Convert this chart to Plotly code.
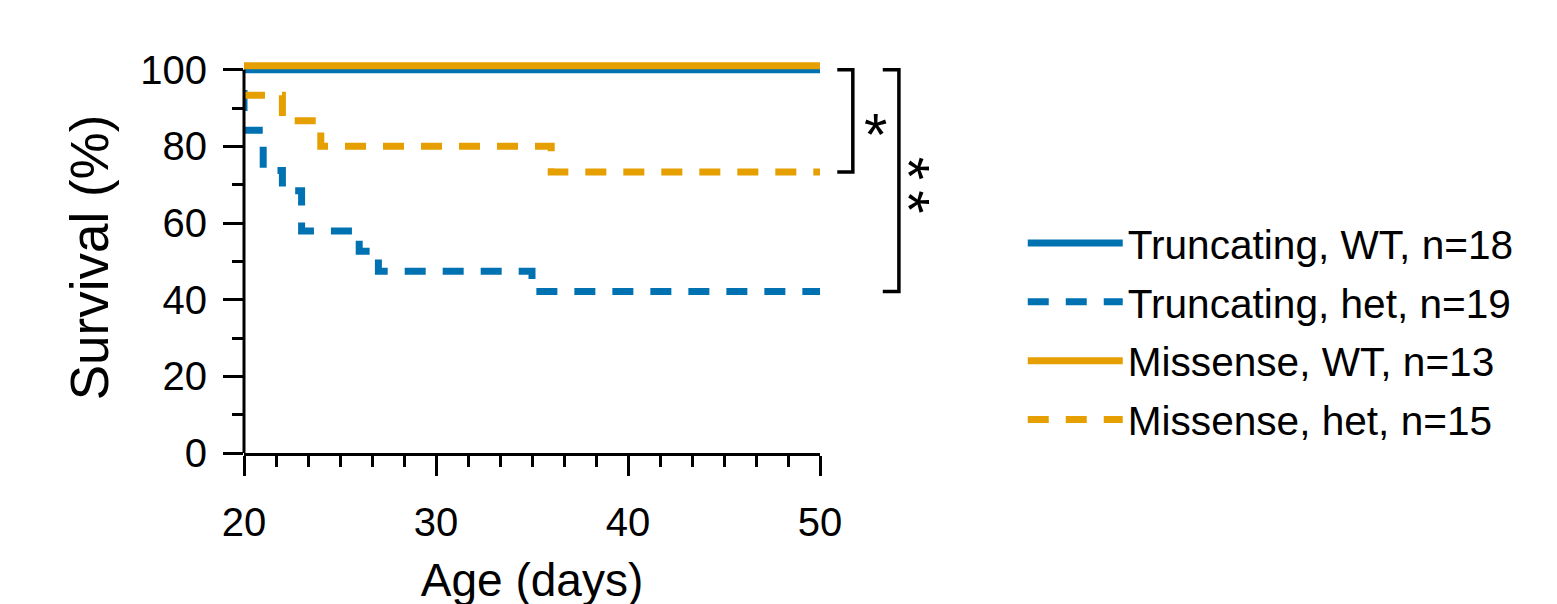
import plotly.graph_objects as go

# ---- data ----
trunc_wt_days = [20, 50]
trunc_wt_surv = [100, 100]

trunc_het_days = [20, 20, 21, 22, 23, 26, 27, 35, 50]
trunc_het_surv = [94.7, 84.2, 73.7, 68.4, 57.9, 52.6, 47.4, 42.1, 42.1]

mis_wt_days = [20, 50]
mis_wt_surv = [100, 100]

mis_het_days = [20, 22, 24, 36, 50]
mis_het_surv = [93.3, 86.7, 80.0, 73.3, 73.3]

series_names = ["Truncating, WT, n=18", "Truncating, het, n=19",
                "Missense, WT, n=13", "Missense, het, n=15"]

x_ticks = [20, 30, 40, 50]
y_ticks = [0, 20, 40, 60, 80, 100]

# significance brackets: (top %, bottom %, label)
brackets = [(100, 73.3, "*"), (100, 42.1, "*\u2006*")]

BLUE = "#0072B2"
ORANGE = "#E69F00"
FONT = "Liberation Sans, Arial, sans-serif"
LW = 7
DASH = "21px,17px"
YMAX = 102  # small headroom so the offset 100% line is not clipped

fig = go.Figure()
fig.add_trace(go.Scatter(x=trunc_wt_days, y=trunc_wt_surv, mode="lines", line_shape="hv",
                         line=dict(color=BLUE, width=LW), name=series_names[0],
                         legendgroup="a"))
fig.add_trace(go.Scatter(x=trunc_het_days, y=trunc_het_surv, mode="lines", line_shape="hv",
                         line=dict(color=BLUE, width=LW, dash=DASH), name=series_names[1],
                         legendgroup="b"))
# Missense WT drawn slightly offset (as in the original, so both 100% lines are visible)
fig.add_trace(go.Scatter(x=mis_wt_days, y=mis_wt_surv, mode="lines", line_shape="hv",
                         line=dict(color=ORANGE, width=LW), name=series_names[2],
                         legendgroup="c", yaxis="y2"))
fig.add_trace(go.Scatter(x=mis_het_days, y=mis_het_surv, mode="lines", line_shape="hv",
                         line=dict(color=ORANGE, width=LW, dash=DASH), name=series_names[3],
                         legendgroup="d"))

axis_common = dict(ticks="outside", tickwidth=3, tickcolor="black", ticklen=20,
                   showgrid=False, zeroline=False,
                   tickfont=dict(size=40, color="black", family=FONT))

fig.update_layout(
    width=1557, height=604,
    margin=dict(l=236, r=745, t=54, b=159),
    plot_bgcolor="white", paper_bgcolor="white",
    font=dict(family=FONT, color="black", size=40),
    xaxis=dict(range=[20, 50], tickvals=x_ticks, showline=True, linecolor="black",
               linewidth=3, ticklabelstandoff=12, **axis_common,
               minor=dict(dtick=10 / 6, tick0=20, ticks="outside", ticklen=11,
                          tickwidth=3, tickcolor="black"),
               title=dict(text="Age (days)", font=dict(size=46), standoff=21)),
    yaxis=dict(range=[0, YMAX], tickvals=y_ticks, showline=False,
               ticklabelstandoff=8, **axis_common,
               minor=dict(dtick=10, tick0=0, ticks="outside", ticklen=11,
                          tickwidth=3, tickcolor="black"),
               title=dict(text="Survival (%)", font=dict(size=53), standoff=14)),
    yaxis2=dict(range=[-1, YMAX - 1], overlaying="y", visible=False),
    legend=dict(x=1.352, y=0.621, xanchor="left", yanchor="top",
                font=dict(size=40.6, color="black", family=FONT),
                itemwidth=95, tracegroupgap=3, bgcolor="rgba(0,0,0,0)"),
    showlegend=True,
)

# y axis line from 0 to 100 only
fig.add_shape(type="line", xref="paper", yref="y", x0=0, x1=0, y0=0, y1=y_ticks[-1],
              line=dict(color="black", width=3))

# brackets
bx = [(1.030, 1.057), (1.109, 1.137)]
for (top, bot, lab), (x0, x1) in zip(brackets, bx):
    fig.add_shape(type="path", xref="paper", yref="y",
                  path=f"M {x0},{top} L {x1},{top} L {x1},{bot} L {x0},{bot}",
                  line=dict(color="black", width=3.5))
fig.add_annotation(xref="paper", yref="y", x=1.0955, y=(brackets[0][0] + brackets[0][1]) / 2,
                   xanchor="center", yanchor="middle",
                   text=brackets[0][2], showarrow=False, yshift=-14,
                   font=dict(size=60, family=FONT))
fig.add_annotation(xref="paper", yref="y", x=1.175, y=(brackets[1][0] + brackets[1][1]) / 2,
                   xanchor="center", yanchor="middle",
                   text=brackets[1][2], showarrow=False, textangle=90, xshift=-12, yshift=-5,
                   font=dict(size=60, family=FONT))

fig.write_html("out.html")
